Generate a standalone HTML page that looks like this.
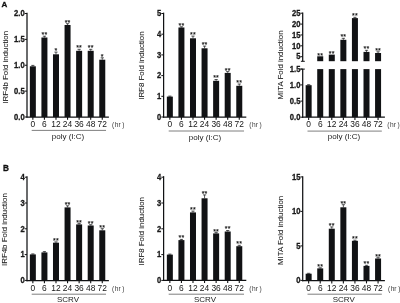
<!DOCTYPE html>
<html lang="en"><head><meta charset="utf-8"><title>Figure</title>
<style>
html,body{margin:0;padding:0;background:#fff;overflow:hidden}
svg{display:block;filter:blur(0.3px);font-family:"Liberation Sans",Arial,sans-serif}
</style></head>
<body>
<svg width="400" height="303" viewBox="0 0 400 303">
<rect x="0" y="0" width="400" height="303" fill="#ffffff"/>
<line x1="27" y1="12.65" x2="27" y2="117.6" stroke="#111214" stroke-width="1.25"/>
<line x1="26.4" y1="117" x2="108.9" y2="117" stroke="#111214" stroke-width="1.25"/>
<line x1="24.7" y1="117" x2="27" y2="117" stroke="#111214" stroke-width="1"/>
<text transform="translate(24.7,119.75) scale(0.92,1)" font-size="8.3" text-anchor="end" font-weight="bold" fill="#1a1a1a" stroke="#1a1a1a" stroke-width="0.3">0.0</text>
<line x1="24.7" y1="91.12" x2="27" y2="91.12" stroke="#111214" stroke-width="1"/>
<text transform="translate(24.7,93.88) scale(0.92,1)" font-size="8.3" text-anchor="end" font-weight="bold" fill="#1a1a1a" stroke="#1a1a1a" stroke-width="0.3">0.5</text>
<line x1="24.7" y1="65.25" x2="27" y2="65.25" stroke="#111214" stroke-width="1"/>
<text transform="translate(24.7,68) scale(0.92,1)" font-size="8.3" text-anchor="end" font-weight="bold" fill="#1a1a1a" stroke="#1a1a1a" stroke-width="0.3">1.0</text>
<line x1="24.7" y1="39.38" x2="27" y2="39.38" stroke="#111214" stroke-width="1"/>
<text transform="translate(24.7,42.12) scale(0.92,1)" font-size="8.3" text-anchor="end" font-weight="bold" fill="#1a1a1a" stroke="#1a1a1a" stroke-width="0.3">1.5</text>
<line x1="24.7" y1="13.5" x2="27" y2="13.5" stroke="#111214" stroke-width="1"/>
<text transform="translate(24.7,16.25) scale(0.92,1)" font-size="8.3" text-anchor="end" font-weight="bold" fill="#1a1a1a" stroke="#1a1a1a" stroke-width="0.3">2.0</text>
<rect x="29.85" y="66.3" width="6" height="50.7" fill="#111214"/>
<line x1="32.85" y1="65.4" x2="32.85" y2="66.3" stroke="#111214" stroke-width="0.7"/>
<line x1="31.25" y1="65.4" x2="34.45" y2="65.4" stroke="#111214" stroke-width="0.7"/>
<line x1="32.85" y1="117" x2="32.85" y2="119.7" stroke="#111214" stroke-width="1.1"/>
<text transform="translate(32.85,127) scale(0.98,1)" font-size="8.6" text-anchor="middle" fill="#161616">0</text>
<rect x="41.42" y="37.5" width="6" height="79.5" fill="#111214"/>
<line x1="44.42" y1="36.2" x2="44.42" y2="37.5" stroke="#111214" stroke-width="0.7"/>
<line x1="42.82" y1="36.2" x2="46.02" y2="36.2" stroke="#111214" stroke-width="0.7"/>
<text x="44.42" y="37.1" font-size="7" text-anchor="middle" font-weight="normal" fill="#111" stroke="#111" stroke-width="0.15" letter-spacing="0.2">**</text>
<line x1="44.42" y1="117" x2="44.42" y2="119.7" stroke="#111214" stroke-width="1.1"/>
<text transform="translate(44.42,127) scale(0.98,1)" font-size="8.6" text-anchor="middle" fill="#161616">6</text>
<rect x="52.99" y="54.3" width="6" height="62.7" fill="#111214"/>
<line x1="55.99" y1="52.1" x2="55.99" y2="54.3" stroke="#111214" stroke-width="0.7"/>
<line x1="54.39" y1="52.1" x2="57.59" y2="52.1" stroke="#111214" stroke-width="0.7"/>
<text x="55.99" y="53" font-size="7" text-anchor="middle" font-weight="normal" fill="#111" stroke="#111" stroke-width="0.15" letter-spacing="0.2">*</text>
<line x1="55.99" y1="117" x2="55.99" y2="119.7" stroke="#111214" stroke-width="1.1"/>
<text transform="translate(55.99,127) scale(0.98,1)" font-size="8.6" text-anchor="middle" fill="#161616">12</text>
<rect x="64.56" y="25" width="6" height="92" fill="#111214"/>
<line x1="67.56" y1="23.7" x2="67.56" y2="25" stroke="#111214" stroke-width="0.7"/>
<line x1="65.96" y1="23.7" x2="69.16" y2="23.7" stroke="#111214" stroke-width="0.7"/>
<text x="67.56" y="24.6" font-size="7" text-anchor="middle" font-weight="normal" fill="#111" stroke="#111" stroke-width="0.15" letter-spacing="0.2">**</text>
<line x1="67.56" y1="117" x2="67.56" y2="119.7" stroke="#111214" stroke-width="1.1"/>
<text transform="translate(67.56,127) scale(0.98,1)" font-size="8.6" text-anchor="middle" fill="#161616">24</text>
<rect x="76.13" y="50.8" width="6" height="66.2" fill="#111214"/>
<line x1="79.13" y1="49.3" x2="79.13" y2="50.8" stroke="#111214" stroke-width="0.7"/>
<line x1="77.53" y1="49.3" x2="80.73" y2="49.3" stroke="#111214" stroke-width="0.7"/>
<text x="79.13" y="50.2" font-size="7" text-anchor="middle" font-weight="normal" fill="#111" stroke="#111" stroke-width="0.15" letter-spacing="0.2">**</text>
<line x1="79.13" y1="117" x2="79.13" y2="119.7" stroke="#111214" stroke-width="1.1"/>
<text transform="translate(79.13,127) scale(0.98,1)" font-size="8.6" text-anchor="middle" fill="#161616">36</text>
<rect x="87.7" y="50.8" width="6" height="66.2" fill="#111214"/>
<line x1="90.7" y1="49.3" x2="90.7" y2="50.8" stroke="#111214" stroke-width="0.7"/>
<line x1="89.1" y1="49.3" x2="92.3" y2="49.3" stroke="#111214" stroke-width="0.7"/>
<text x="90.7" y="50.2" font-size="7" text-anchor="middle" font-weight="normal" fill="#111" stroke="#111" stroke-width="0.15" letter-spacing="0.2">**</text>
<line x1="90.7" y1="117" x2="90.7" y2="119.7" stroke="#111214" stroke-width="1.1"/>
<text transform="translate(90.7,127) scale(0.98,1)" font-size="8.6" text-anchor="middle" fill="#161616">48</text>
<rect x="99.27" y="59.7" width="6" height="57.3" fill="#111214"/>
<line x1="102.27" y1="57.8" x2="102.27" y2="59.7" stroke="#111214" stroke-width="0.7"/>
<line x1="100.67" y1="57.8" x2="103.87" y2="57.8" stroke="#111214" stroke-width="0.7"/>
<text x="102.27" y="58.7" font-size="7" text-anchor="middle" font-weight="normal" fill="#111" stroke="#111" stroke-width="0.15" letter-spacing="0.2">*</text>
<line x1="102.27" y1="117" x2="102.27" y2="119.7" stroke="#111214" stroke-width="1.1"/>
<text transform="translate(102.27,127) scale(0.98,1)" font-size="8.6" text-anchor="middle" fill="#161616">72</text>
<text x="112" y="127.1" font-size="6.6" text-anchor="start" font-weight="normal" fill="#3a3a3a">(<tspan dx="0.6">hr</tspan><tspan dx="1.6">)</tspan></text>
<line x1="31.7" y1="130.4" x2="106.02" y2="130.4" stroke="#707070" stroke-width="0.9"/>
<text x="68" y="138.7" font-size="8" text-anchor="middle" font-weight="normal" fill="#222">poly (I:C)</text>
<text transform="translate(7.8,67.3) rotate(-90)" font-size="7.9" text-anchor="middle" fill="#1c1c1c" stroke="#1c1c1c" stroke-width="0.08">IRF4b Fold induction</text>
<line x1="163.6" y1="12.65" x2="163.6" y2="117.6" stroke="#111214" stroke-width="1.25"/>
<line x1="163" y1="117" x2="246.3" y2="117" stroke="#111214" stroke-width="1.25"/>
<line x1="161.3" y1="117" x2="163.6" y2="117" stroke="#111214" stroke-width="1"/>
<text transform="translate(161.3,119.75) scale(0.92,1)" font-size="8.3" text-anchor="end" font-weight="bold" fill="#1a1a1a" stroke="#1a1a1a" stroke-width="0.3">0</text>
<line x1="161.3" y1="96.3" x2="163.6" y2="96.3" stroke="#111214" stroke-width="1"/>
<text transform="translate(161.3,99.05) scale(0.92,1)" font-size="8.3" text-anchor="end" font-weight="bold" fill="#1a1a1a" stroke="#1a1a1a" stroke-width="0.3">1</text>
<line x1="161.3" y1="75.6" x2="163.6" y2="75.6" stroke="#111214" stroke-width="1"/>
<text transform="translate(161.3,78.35) scale(0.92,1)" font-size="8.3" text-anchor="end" font-weight="bold" fill="#1a1a1a" stroke="#1a1a1a" stroke-width="0.3">2</text>
<line x1="161.3" y1="54.9" x2="163.6" y2="54.9" stroke="#111214" stroke-width="1"/>
<text transform="translate(161.3,57.65) scale(0.92,1)" font-size="8.3" text-anchor="end" font-weight="bold" fill="#1a1a1a" stroke="#1a1a1a" stroke-width="0.3">3</text>
<line x1="161.3" y1="34.2" x2="163.6" y2="34.2" stroke="#111214" stroke-width="1"/>
<text transform="translate(161.3,36.95) scale(0.92,1)" font-size="8.3" text-anchor="end" font-weight="bold" fill="#1a1a1a" stroke="#1a1a1a" stroke-width="0.3">4</text>
<line x1="161.3" y1="13.5" x2="163.6" y2="13.5" stroke="#111214" stroke-width="1"/>
<text transform="translate(161.3,16.25) scale(0.92,1)" font-size="8.3" text-anchor="end" font-weight="bold" fill="#1a1a1a" stroke="#1a1a1a" stroke-width="0.3">5</text>
<rect x="166.85" y="96.6" width="6" height="20.4" fill="#111214"/>
<line x1="169.85" y1="96.1" x2="169.85" y2="96.6" stroke="#111214" stroke-width="0.7"/>
<line x1="168.25" y1="96.1" x2="171.45" y2="96.1" stroke="#111214" stroke-width="0.7"/>
<line x1="169.85" y1="117" x2="169.85" y2="119.7" stroke="#111214" stroke-width="1.1"/>
<text transform="translate(169.85,127) scale(0.98,1)" font-size="8.6" text-anchor="middle" fill="#161616">0</text>
<rect x="178.42" y="27.5" width="6" height="89.5" fill="#111214"/>
<line x1="181.42" y1="26.8" x2="181.42" y2="27.5" stroke="#111214" stroke-width="0.7"/>
<line x1="179.82" y1="26.8" x2="183.02" y2="26.8" stroke="#111214" stroke-width="0.7"/>
<text x="181.42" y="27.7" font-size="7" text-anchor="middle" font-weight="normal" fill="#111" stroke="#111" stroke-width="0.15" letter-spacing="0.2">**</text>
<line x1="181.42" y1="117" x2="181.42" y2="119.7" stroke="#111214" stroke-width="1.1"/>
<text transform="translate(181.42,127) scale(0.98,1)" font-size="8.6" text-anchor="middle" fill="#161616">6</text>
<rect x="189.99" y="38.3" width="6" height="78.7" fill="#111214"/>
<line x1="192.99" y1="36.1" x2="192.99" y2="38.3" stroke="#111214" stroke-width="0.7"/>
<line x1="191.39" y1="36.1" x2="194.59" y2="36.1" stroke="#111214" stroke-width="0.7"/>
<text x="192.99" y="37" font-size="7" text-anchor="middle" font-weight="normal" fill="#111" stroke="#111" stroke-width="0.15" letter-spacing="0.2">**</text>
<line x1="192.99" y1="117" x2="192.99" y2="119.7" stroke="#111214" stroke-width="1.1"/>
<text transform="translate(192.99,127) scale(0.98,1)" font-size="8.6" text-anchor="middle" fill="#161616">12</text>
<rect x="201.56" y="48.3" width="6" height="68.7" fill="#111214"/>
<line x1="204.56" y1="46.1" x2="204.56" y2="48.3" stroke="#111214" stroke-width="0.7"/>
<line x1="202.96" y1="46.1" x2="206.16" y2="46.1" stroke="#111214" stroke-width="0.7"/>
<text x="204.56" y="47" font-size="7" text-anchor="middle" font-weight="normal" fill="#111" stroke="#111" stroke-width="0.15" letter-spacing="0.2">**</text>
<line x1="204.56" y1="117" x2="204.56" y2="119.7" stroke="#111214" stroke-width="1.1"/>
<text transform="translate(204.56,127) scale(0.98,1)" font-size="8.6" text-anchor="middle" fill="#161616">24</text>
<rect x="213.13" y="80.8" width="6" height="36.2" fill="#111214"/>
<line x1="216.13" y1="79.5" x2="216.13" y2="80.8" stroke="#111214" stroke-width="0.7"/>
<line x1="214.53" y1="79.5" x2="217.73" y2="79.5" stroke="#111214" stroke-width="0.7"/>
<text x="216.13" y="80.4" font-size="7" text-anchor="middle" font-weight="normal" fill="#111" stroke="#111" stroke-width="0.15" letter-spacing="0.2">**</text>
<line x1="216.13" y1="117" x2="216.13" y2="119.7" stroke="#111214" stroke-width="1.1"/>
<text transform="translate(216.13,127) scale(0.98,1)" font-size="8.6" text-anchor="middle" fill="#161616">36</text>
<rect x="224.7" y="72.9" width="6" height="44.1" fill="#111214"/>
<line x1="227.7" y1="71.6" x2="227.7" y2="72.9" stroke="#111214" stroke-width="0.7"/>
<line x1="226.1" y1="71.6" x2="229.3" y2="71.6" stroke="#111214" stroke-width="0.7"/>
<text x="227.7" y="72.5" font-size="7" text-anchor="middle" font-weight="normal" fill="#111" stroke="#111" stroke-width="0.15" letter-spacing="0.2">**</text>
<line x1="227.7" y1="117" x2="227.7" y2="119.7" stroke="#111214" stroke-width="1.1"/>
<text transform="translate(227.7,127) scale(0.98,1)" font-size="8.6" text-anchor="middle" fill="#161616">48</text>
<rect x="236.27" y="85.8" width="6" height="31.2" fill="#111214"/>
<line x1="239.27" y1="84" x2="239.27" y2="85.8" stroke="#111214" stroke-width="0.7"/>
<line x1="237.67" y1="84" x2="240.87" y2="84" stroke="#111214" stroke-width="0.7"/>
<text x="239.27" y="84.9" font-size="7" text-anchor="middle" font-weight="normal" fill="#111" stroke="#111" stroke-width="0.15" letter-spacing="0.2">**</text>
<line x1="239.27" y1="117" x2="239.27" y2="119.7" stroke="#111214" stroke-width="1.1"/>
<text transform="translate(239.27,127) scale(0.98,1)" font-size="8.6" text-anchor="middle" fill="#161616">72</text>
<text x="249.2" y="127.1" font-size="6.6" text-anchor="start" font-weight="normal" fill="#3a3a3a">(<tspan dx="0.6">hr</tspan><tspan dx="1.6">)</tspan></text>
<line x1="168.7" y1="131" x2="244.02" y2="131" stroke="#707070" stroke-width="0.9"/>
<text x="205" y="139.5" font-size="8" text-anchor="middle" font-weight="normal" fill="#222">poly (I:C)</text>
<text transform="translate(143.6,65.6) rotate(-90)" font-size="7.9" text-anchor="middle" fill="#1c1c1c" stroke="#1c1c1c" stroke-width="0.08">IRF8 Fold induction</text>
<line x1="302.7" y1="12.5" x2="302.7" y2="61.3" stroke="#111214" stroke-width="1.25"/>
<line x1="302.7" y1="69.1" x2="302.7" y2="117.8" stroke="#111214" stroke-width="1.25"/>
<line x1="300.9" y1="61.3" x2="304.8" y2="61.3" stroke="#111214" stroke-width="1"/>
<line x1="300.4" y1="69.1" x2="304.8" y2="69.1" stroke="#111214" stroke-width="1"/>
<line x1="302.1" y1="117.2" x2="384.9" y2="117.2" stroke="#111214" stroke-width="1.25"/>
<line x1="300.4" y1="117.2" x2="302.7" y2="117.2" stroke="#111214" stroke-width="1"/>
<text transform="translate(300.4,119.95) scale(0.92,1)" font-size="8.3" text-anchor="end" font-weight="bold" fill="#1a1a1a" stroke="#1a1a1a" stroke-width="0.3">0.0</text>
<line x1="300.4" y1="101.1" x2="302.7" y2="101.1" stroke="#111214" stroke-width="1"/>
<text transform="translate(300.4,103.85) scale(0.92,1)" font-size="8.3" text-anchor="end" font-weight="bold" fill="#1a1a1a" stroke="#1a1a1a" stroke-width="0.3">0.5</text>
<line x1="300.4" y1="84.9" x2="302.7" y2="84.9" stroke="#111214" stroke-width="1"/>
<text transform="translate(300.4,87.65) scale(0.92,1)" font-size="8.3" text-anchor="end" font-weight="bold" fill="#1a1a1a" stroke="#1a1a1a" stroke-width="0.3">1.0</text>
<line x1="300.4" y1="69" x2="302.7" y2="69" stroke="#111214" stroke-width="1"/>
<text transform="translate(300.4,71.75) scale(0.92,1)" font-size="8.3" text-anchor="end" font-weight="bold" fill="#1a1a1a" stroke="#1a1a1a" stroke-width="0.3">1.5</text>
<line x1="300.4" y1="56.7" x2="302.7" y2="56.7" stroke="#111214" stroke-width="1"/>
<text transform="translate(300.4,59.45) scale(0.92,1)" font-size="8.3" text-anchor="end" font-weight="bold" fill="#1a1a1a" stroke="#1a1a1a" stroke-width="0.3">5</text>
<line x1="300.4" y1="45.8" x2="302.7" y2="45.8" stroke="#111214" stroke-width="1"/>
<text transform="translate(300.4,48.55) scale(0.92,1)" font-size="8.3" text-anchor="end" font-weight="bold" fill="#1a1a1a" stroke="#1a1a1a" stroke-width="0.3">10</text>
<line x1="300.4" y1="34.95" x2="302.7" y2="34.95" stroke="#111214" stroke-width="1"/>
<text transform="translate(300.4,37.7) scale(0.92,1)" font-size="8.3" text-anchor="end" font-weight="bold" fill="#1a1a1a" stroke="#1a1a1a" stroke-width="0.3">15</text>
<line x1="300.4" y1="24.1" x2="302.7" y2="24.1" stroke="#111214" stroke-width="1"/>
<text transform="translate(300.4,26.85) scale(0.92,1)" font-size="8.3" text-anchor="end" font-weight="bold" fill="#1a1a1a" stroke="#1a1a1a" stroke-width="0.3">20</text>
<line x1="300.4" y1="13.2" x2="302.7" y2="13.2" stroke="#111214" stroke-width="1"/>
<text transform="translate(300.4,15.95) scale(0.92,1)" font-size="8.3" text-anchor="end" font-weight="bold" fill="#1a1a1a" stroke="#1a1a1a" stroke-width="0.3">25</text>
<rect x="305.65" y="85.2" width="6" height="32" fill="#111214"/>
<line x1="308.65" y1="84.7" x2="308.65" y2="85.2" stroke="#111214" stroke-width="0.7"/>
<line x1="307.05" y1="84.7" x2="310.25" y2="84.7" stroke="#111214" stroke-width="0.7"/>
<line x1="308.65" y1="117.2" x2="308.65" y2="119.9" stroke="#111214" stroke-width="1.1"/>
<text transform="translate(308.65,127) scale(0.98,1)" font-size="8.6" text-anchor="middle" fill="#161616">0</text>
<rect x="317.22" y="56.3" width="6" height="4.9" fill="#111214"/>
<rect x="317.22" y="69.1" width="6" height="48.1" fill="#111214"/>
<text x="320.22" y="57.9" font-size="7" text-anchor="middle" font-weight="normal" fill="#111" stroke="#111" stroke-width="0.15" letter-spacing="0.2">**</text>
<line x1="320.22" y1="117.2" x2="320.22" y2="119.9" stroke="#111214" stroke-width="1.1"/>
<text transform="translate(320.22,127) scale(0.98,1)" font-size="8.6" text-anchor="middle" fill="#161616">6</text>
<rect x="328.79" y="54.6" width="6" height="6.6" fill="#111214"/>
<rect x="328.79" y="69.1" width="6" height="48.1" fill="#111214"/>
<text x="331.79" y="55.5" font-size="7" text-anchor="middle" font-weight="normal" fill="#111" stroke="#111" stroke-width="0.15" letter-spacing="0.2">**</text>
<line x1="331.79" y1="117.2" x2="331.79" y2="119.9" stroke="#111214" stroke-width="1.1"/>
<text transform="translate(331.79,127) scale(0.98,1)" font-size="8.6" text-anchor="middle" fill="#161616">12</text>
<rect x="340.36" y="39.8" width="6" height="21.4" fill="#111214"/>
<rect x="340.36" y="69.1" width="6" height="48.1" fill="#111214"/>
<line x1="343.36" y1="38.3" x2="343.36" y2="39.8" stroke="#111214" stroke-width="0.7"/>
<line x1="341.76" y1="38.3" x2="344.96" y2="38.3" stroke="#111214" stroke-width="0.7"/>
<text x="343.36" y="39.2" font-size="7" text-anchor="middle" font-weight="normal" fill="#111" stroke="#111" stroke-width="0.15" letter-spacing="0.2">**</text>
<line x1="343.36" y1="117.2" x2="343.36" y2="119.9" stroke="#111214" stroke-width="1.1"/>
<text transform="translate(343.36,127) scale(0.98,1)" font-size="8.6" text-anchor="middle" fill="#161616">24</text>
<rect x="351.93" y="18.1" width="6" height="43.1" fill="#111214"/>
<rect x="351.93" y="69.1" width="6" height="48.1" fill="#111214"/>
<line x1="354.93" y1="17.3" x2="354.93" y2="18.1" stroke="#111214" stroke-width="0.7"/>
<line x1="353.33" y1="17.3" x2="356.53" y2="17.3" stroke="#111214" stroke-width="0.7"/>
<text x="354.93" y="18.2" font-size="7" text-anchor="middle" font-weight="normal" fill="#111" stroke="#111" stroke-width="0.15" letter-spacing="0.2">**</text>
<line x1="354.93" y1="117.2" x2="354.93" y2="119.9" stroke="#111214" stroke-width="1.1"/>
<text transform="translate(354.93,127) scale(0.98,1)" font-size="8.6" text-anchor="middle" fill="#161616">36</text>
<rect x="363.5" y="51.9" width="6" height="9.3" fill="#111214"/>
<rect x="363.5" y="69.1" width="6" height="48.1" fill="#111214"/>
<line x1="366.5" y1="50.3" x2="366.5" y2="51.9" stroke="#111214" stroke-width="0.7"/>
<line x1="364.9" y1="50.3" x2="368.1" y2="50.3" stroke="#111214" stroke-width="0.7"/>
<text x="366.5" y="51.2" font-size="7" text-anchor="middle" font-weight="normal" fill="#111" stroke="#111" stroke-width="0.15" letter-spacing="0.2">**</text>
<line x1="366.5" y1="117.2" x2="366.5" y2="119.9" stroke="#111214" stroke-width="1.1"/>
<text transform="translate(366.5,127) scale(0.98,1)" font-size="8.6" text-anchor="middle" fill="#161616">48</text>
<rect x="375.07" y="53" width="6" height="8.2" fill="#111214"/>
<rect x="375.07" y="69.1" width="6" height="48.1" fill="#111214"/>
<line x1="378.07" y1="51.8" x2="378.07" y2="53" stroke="#111214" stroke-width="0.7"/>
<line x1="376.47" y1="51.8" x2="379.67" y2="51.8" stroke="#111214" stroke-width="0.7"/>
<text x="378.07" y="52.7" font-size="7" text-anchor="middle" font-weight="normal" fill="#111" stroke="#111" stroke-width="0.15" letter-spacing="0.2">**</text>
<line x1="378.07" y1="117.2" x2="378.07" y2="119.9" stroke="#111214" stroke-width="1.1"/>
<text transform="translate(378.07,127) scale(0.98,1)" font-size="8.6" text-anchor="middle" fill="#161616">72</text>
<text x="387.3" y="127.1" font-size="6.6" text-anchor="start" font-weight="normal" fill="#3a3a3a">(<tspan dx="0.6">hr</tspan><tspan dx="1.6">)</tspan></text>
<line x1="307.5" y1="131.1" x2="381.82" y2="131.1" stroke="#707070" stroke-width="0.9"/>
<text x="344" y="139.3" font-size="8" text-anchor="middle" font-weight="normal" fill="#222">poly (I:C)</text>
<text transform="translate(282.6,65) rotate(-90)" font-size="7.9" text-anchor="middle" fill="#1c1c1c" stroke="#1c1c1c" stroke-width="0.08">MITA Fold induction</text>
<line x1="27" y1="176.15" x2="27" y2="281.2" stroke="#111214" stroke-width="1.25"/>
<line x1="26.4" y1="280.6" x2="108.9" y2="280.6" stroke="#111214" stroke-width="1.25"/>
<line x1="24.7" y1="280.4" x2="27" y2="280.4" stroke="#111214" stroke-width="1"/>
<text transform="translate(24.7,283.15) scale(0.92,1)" font-size="8.3" text-anchor="end" font-weight="bold" fill="#1a1a1a" stroke="#1a1a1a" stroke-width="0.3">0</text>
<line x1="24.7" y1="254.6" x2="27" y2="254.6" stroke="#111214" stroke-width="1"/>
<text transform="translate(24.7,257.35) scale(0.92,1)" font-size="8.3" text-anchor="end" font-weight="bold" fill="#1a1a1a" stroke="#1a1a1a" stroke-width="0.3">1</text>
<line x1="24.7" y1="228.8" x2="27" y2="228.8" stroke="#111214" stroke-width="1"/>
<text transform="translate(24.7,231.55) scale(0.92,1)" font-size="8.3" text-anchor="end" font-weight="bold" fill="#1a1a1a" stroke="#1a1a1a" stroke-width="0.3">2</text>
<line x1="24.7" y1="203" x2="27" y2="203" stroke="#111214" stroke-width="1"/>
<text transform="translate(24.7,205.75) scale(0.92,1)" font-size="8.3" text-anchor="end" font-weight="bold" fill="#1a1a1a" stroke="#1a1a1a" stroke-width="0.3">3</text>
<line x1="24.7" y1="177.2" x2="27" y2="177.2" stroke="#111214" stroke-width="1"/>
<text transform="translate(24.7,179.95) scale(0.92,1)" font-size="8.3" text-anchor="end" font-weight="bold" fill="#1a1a1a" stroke="#1a1a1a" stroke-width="0.3">4</text>
<rect x="29.85" y="254.4" width="6" height="26.2" fill="#111214"/>
<line x1="32.85" y1="253.9" x2="32.85" y2="254.4" stroke="#111214" stroke-width="0.7"/>
<line x1="31.25" y1="253.9" x2="34.45" y2="253.9" stroke="#111214" stroke-width="0.7"/>
<line x1="32.85" y1="280.6" x2="32.85" y2="283.3" stroke="#111214" stroke-width="1.1"/>
<text transform="translate(32.85,290.5) scale(0.98,1)" font-size="8.6" text-anchor="middle" fill="#161616">0</text>
<rect x="41.42" y="252.4" width="6" height="28.2" fill="#111214"/>
<line x1="44.42" y1="251.6" x2="44.42" y2="252.4" stroke="#111214" stroke-width="0.7"/>
<line x1="42.82" y1="251.6" x2="46.02" y2="251.6" stroke="#111214" stroke-width="0.7"/>
<line x1="44.42" y1="280.6" x2="44.42" y2="283.3" stroke="#111214" stroke-width="1.1"/>
<text transform="translate(44.42,290.5) scale(0.98,1)" font-size="8.6" text-anchor="middle" fill="#161616">6</text>
<rect x="52.99" y="242.7" width="6" height="37.9" fill="#111214"/>
<line x1="55.99" y1="241.9" x2="55.99" y2="242.7" stroke="#111214" stroke-width="0.7"/>
<line x1="54.39" y1="241.9" x2="57.59" y2="241.9" stroke="#111214" stroke-width="0.7"/>
<text x="55.99" y="242.8" font-size="7" text-anchor="middle" font-weight="normal" fill="#111" stroke="#111" stroke-width="0.15" letter-spacing="0.2">**</text>
<line x1="55.99" y1="280.6" x2="55.99" y2="283.3" stroke="#111214" stroke-width="1.1"/>
<text transform="translate(55.99,290.5) scale(0.98,1)" font-size="8.6" text-anchor="middle" fill="#161616">12</text>
<rect x="64.56" y="207.4" width="6" height="73.2" fill="#111214"/>
<line x1="67.56" y1="205.8" x2="67.56" y2="207.4" stroke="#111214" stroke-width="0.7"/>
<line x1="65.96" y1="205.8" x2="69.16" y2="205.8" stroke="#111214" stroke-width="0.7"/>
<text x="67.56" y="206.7" font-size="7" text-anchor="middle" font-weight="normal" fill="#111" stroke="#111" stroke-width="0.15" letter-spacing="0.2">**</text>
<line x1="67.56" y1="280.6" x2="67.56" y2="283.3" stroke="#111214" stroke-width="1.1"/>
<text transform="translate(67.56,290.5) scale(0.98,1)" font-size="8.6" text-anchor="middle" fill="#161616">24</text>
<rect x="76.13" y="224.4" width="6" height="56.2" fill="#111214"/>
<line x1="79.13" y1="223.6" x2="79.13" y2="224.4" stroke="#111214" stroke-width="0.7"/>
<line x1="77.53" y1="223.6" x2="80.73" y2="223.6" stroke="#111214" stroke-width="0.7"/>
<text x="79.13" y="224.5" font-size="7" text-anchor="middle" font-weight="normal" fill="#111" stroke="#111" stroke-width="0.15" letter-spacing="0.2">**</text>
<line x1="79.13" y1="280.6" x2="79.13" y2="283.3" stroke="#111214" stroke-width="1.1"/>
<text transform="translate(79.13,290.5) scale(0.98,1)" font-size="8.6" text-anchor="middle" fill="#161616">36</text>
<rect x="87.7" y="225.5" width="6" height="55.1" fill="#111214"/>
<line x1="90.7" y1="224.7" x2="90.7" y2="225.5" stroke="#111214" stroke-width="0.7"/>
<line x1="89.1" y1="224.7" x2="92.3" y2="224.7" stroke="#111214" stroke-width="0.7"/>
<text x="90.7" y="225.6" font-size="7" text-anchor="middle" font-weight="normal" fill="#111" stroke="#111" stroke-width="0.15" letter-spacing="0.2">**</text>
<line x1="90.7" y1="280.6" x2="90.7" y2="283.3" stroke="#111214" stroke-width="1.1"/>
<text transform="translate(90.7,290.5) scale(0.98,1)" font-size="8.6" text-anchor="middle" fill="#161616">48</text>
<rect x="99.27" y="230.3" width="6" height="50.3" fill="#111214"/>
<line x1="102.27" y1="228.7" x2="102.27" y2="230.3" stroke="#111214" stroke-width="0.7"/>
<line x1="100.67" y1="228.7" x2="103.87" y2="228.7" stroke="#111214" stroke-width="0.7"/>
<text x="102.27" y="229.6" font-size="7" text-anchor="middle" font-weight="normal" fill="#111" stroke="#111" stroke-width="0.15" letter-spacing="0.2">**</text>
<line x1="102.27" y1="280.6" x2="102.27" y2="283.3" stroke="#111214" stroke-width="1.1"/>
<text transform="translate(102.27,290.5) scale(0.98,1)" font-size="8.6" text-anchor="middle" fill="#161616">72</text>
<text x="112" y="290.6" font-size="6.6" text-anchor="start" font-weight="normal" fill="#3a3a3a">(<tspan dx="0.6">hr</tspan><tspan dx="1.6">)</tspan></text>
<line x1="31.7" y1="294.2" x2="106.02" y2="294.2" stroke="#707070" stroke-width="0.9"/>
<text x="68" y="302.2" font-size="8" text-anchor="middle" font-weight="normal" fill="#222">SCRV</text>
<text transform="translate(6.9,229.6) rotate(-90)" font-size="7.9" text-anchor="middle" fill="#1c1c1c" stroke="#1c1c1c" stroke-width="0.08">IRF4b Fold induction</text>
<line x1="163.6" y1="176.15" x2="163.6" y2="281" stroke="#111214" stroke-width="1.25"/>
<line x1="163" y1="280.4" x2="246.3" y2="280.4" stroke="#111214" stroke-width="1.25"/>
<line x1="161.3" y1="280.4" x2="163.6" y2="280.4" stroke="#111214" stroke-width="1"/>
<text transform="translate(161.3,283.15) scale(0.92,1)" font-size="8.3" text-anchor="end" font-weight="bold" fill="#1a1a1a" stroke="#1a1a1a" stroke-width="0.3">0</text>
<line x1="161.3" y1="254.6" x2="163.6" y2="254.6" stroke="#111214" stroke-width="1"/>
<text transform="translate(161.3,257.35) scale(0.92,1)" font-size="8.3" text-anchor="end" font-weight="bold" fill="#1a1a1a" stroke="#1a1a1a" stroke-width="0.3">1</text>
<line x1="161.3" y1="228.8" x2="163.6" y2="228.8" stroke="#111214" stroke-width="1"/>
<text transform="translate(161.3,231.55) scale(0.92,1)" font-size="8.3" text-anchor="end" font-weight="bold" fill="#1a1a1a" stroke="#1a1a1a" stroke-width="0.3">2</text>
<line x1="161.3" y1="203" x2="163.6" y2="203" stroke="#111214" stroke-width="1"/>
<text transform="translate(161.3,205.75) scale(0.92,1)" font-size="8.3" text-anchor="end" font-weight="bold" fill="#1a1a1a" stroke="#1a1a1a" stroke-width="0.3">3</text>
<line x1="161.3" y1="177.2" x2="163.6" y2="177.2" stroke="#111214" stroke-width="1"/>
<text transform="translate(161.3,179.95) scale(0.92,1)" font-size="8.3" text-anchor="end" font-weight="bold" fill="#1a1a1a" stroke="#1a1a1a" stroke-width="0.3">4</text>
<rect x="166.85" y="254.6" width="6" height="25.8" fill="#111214"/>
<line x1="169.85" y1="254.1" x2="169.85" y2="254.6" stroke="#111214" stroke-width="0.7"/>
<line x1="168.25" y1="254.1" x2="171.45" y2="254.1" stroke="#111214" stroke-width="0.7"/>
<line x1="169.85" y1="280.4" x2="169.85" y2="283.1" stroke="#111214" stroke-width="1.1"/>
<text transform="translate(169.85,290.5) scale(0.98,1)" font-size="8.6" text-anchor="middle" fill="#161616">0</text>
<rect x="178.42" y="240.1" width="6" height="40.3" fill="#111214"/>
<line x1="181.42" y1="239.4" x2="181.42" y2="240.1" stroke="#111214" stroke-width="0.7"/>
<line x1="179.82" y1="239.4" x2="183.02" y2="239.4" stroke="#111214" stroke-width="0.7"/>
<text x="181.42" y="240.3" font-size="7" text-anchor="middle" font-weight="normal" fill="#111" stroke="#111" stroke-width="0.15" letter-spacing="0.2">**</text>
<line x1="181.42" y1="280.4" x2="181.42" y2="283.1" stroke="#111214" stroke-width="1.1"/>
<text transform="translate(181.42,290.5) scale(0.98,1)" font-size="8.6" text-anchor="middle" fill="#161616">6</text>
<rect x="189.99" y="212.4" width="6" height="68" fill="#111214"/>
<line x1="192.99" y1="211.1" x2="192.99" y2="212.4" stroke="#111214" stroke-width="0.7"/>
<line x1="191.39" y1="211.1" x2="194.59" y2="211.1" stroke="#111214" stroke-width="0.7"/>
<text x="192.99" y="212" font-size="7" text-anchor="middle" font-weight="normal" fill="#111" stroke="#111" stroke-width="0.15" letter-spacing="0.2">**</text>
<line x1="192.99" y1="280.4" x2="192.99" y2="283.1" stroke="#111214" stroke-width="1.1"/>
<text transform="translate(192.99,290.5) scale(0.98,1)" font-size="8.6" text-anchor="middle" fill="#161616">12</text>
<rect x="201.56" y="198.3" width="6" height="82.1" fill="#111214"/>
<line x1="204.56" y1="194.9" x2="204.56" y2="198.3" stroke="#111214" stroke-width="0.7"/>
<line x1="202.96" y1="194.9" x2="206.16" y2="194.9" stroke="#111214" stroke-width="0.7"/>
<text x="204.56" y="195.8" font-size="7" text-anchor="middle" font-weight="normal" fill="#111" stroke="#111" stroke-width="0.15" letter-spacing="0.2">**</text>
<line x1="204.56" y1="280.4" x2="204.56" y2="283.1" stroke="#111214" stroke-width="1.1"/>
<text transform="translate(204.56,290.5) scale(0.98,1)" font-size="8.6" text-anchor="middle" fill="#161616">24</text>
<rect x="213.13" y="233.4" width="6" height="47" fill="#111214"/>
<line x1="216.13" y1="232.6" x2="216.13" y2="233.4" stroke="#111214" stroke-width="0.7"/>
<line x1="214.53" y1="232.6" x2="217.73" y2="232.6" stroke="#111214" stroke-width="0.7"/>
<text x="216.13" y="233.5" font-size="7" text-anchor="middle" font-weight="normal" fill="#111" stroke="#111" stroke-width="0.15" letter-spacing="0.2">**</text>
<line x1="216.13" y1="280.4" x2="216.13" y2="283.1" stroke="#111214" stroke-width="1.1"/>
<text transform="translate(216.13,290.5) scale(0.98,1)" font-size="8.6" text-anchor="middle" fill="#161616">36</text>
<rect x="224.7" y="231.5" width="6" height="48.9" fill="#111214"/>
<line x1="227.7" y1="230.5" x2="227.7" y2="231.5" stroke="#111214" stroke-width="0.7"/>
<line x1="226.1" y1="230.5" x2="229.3" y2="230.5" stroke="#111214" stroke-width="0.7"/>
<text x="227.7" y="231.4" font-size="7" text-anchor="middle" font-weight="normal" fill="#111" stroke="#111" stroke-width="0.15" letter-spacing="0.2">**</text>
<line x1="227.7" y1="280.4" x2="227.7" y2="283.1" stroke="#111214" stroke-width="1.1"/>
<text transform="translate(227.7,290.5) scale(0.98,1)" font-size="8.6" text-anchor="middle" fill="#161616">48</text>
<rect x="236.27" y="246.2" width="6" height="34.2" fill="#111214"/>
<line x1="239.27" y1="245.3" x2="239.27" y2="246.2" stroke="#111214" stroke-width="0.7"/>
<line x1="237.67" y1="245.3" x2="240.87" y2="245.3" stroke="#111214" stroke-width="0.7"/>
<text x="239.27" y="246.2" font-size="7" text-anchor="middle" font-weight="normal" fill="#111" stroke="#111" stroke-width="0.15" letter-spacing="0.2">**</text>
<line x1="239.27" y1="280.4" x2="239.27" y2="283.1" stroke="#111214" stroke-width="1.1"/>
<text transform="translate(239.27,290.5) scale(0.98,1)" font-size="8.6" text-anchor="middle" fill="#161616">72</text>
<text x="249.2" y="290.6" font-size="6.6" text-anchor="start" font-weight="normal" fill="#3a3a3a">(<tspan dx="0.6">hr</tspan><tspan dx="1.6">)</tspan></text>
<line x1="168.7" y1="294.2" x2="244.02" y2="294.2" stroke="#707070" stroke-width="0.9"/>
<text x="205" y="302.2" font-size="8" text-anchor="middle" font-weight="normal" fill="#222">SCRV</text>
<text transform="translate(143.6,231.3) rotate(-90)" font-size="7.9" text-anchor="middle" fill="#1c1c1c" stroke="#1c1c1c" stroke-width="0.08">IRF8 Fold induction</text>
<line x1="302.7" y1="176.15" x2="302.7" y2="281.3" stroke="#111214" stroke-width="1.25"/>
<line x1="302.1" y1="280.7" x2="384.9" y2="280.7" stroke="#111214" stroke-width="1.25"/>
<line x1="300.4" y1="280.4" x2="302.7" y2="280.4" stroke="#111214" stroke-width="1"/>
<text transform="translate(300.4,283.15) scale(0.92,1)" font-size="8.3" text-anchor="end" font-weight="bold" fill="#1a1a1a" stroke="#1a1a1a" stroke-width="0.3">0</text>
<line x1="300.4" y1="245.9" x2="302.7" y2="245.9" stroke="#111214" stroke-width="1"/>
<text transform="translate(300.4,248.65) scale(0.92,1)" font-size="8.3" text-anchor="end" font-weight="bold" fill="#1a1a1a" stroke="#1a1a1a" stroke-width="0.3">5</text>
<line x1="300.4" y1="211.4" x2="302.7" y2="211.4" stroke="#111214" stroke-width="1"/>
<text transform="translate(300.4,214.15) scale(0.92,1)" font-size="8.3" text-anchor="end" font-weight="bold" fill="#1a1a1a" stroke="#1a1a1a" stroke-width="0.3">10</text>
<line x1="300.4" y1="176.9" x2="302.7" y2="176.9" stroke="#111214" stroke-width="1"/>
<text transform="translate(300.4,179.65) scale(0.92,1)" font-size="8.3" text-anchor="end" font-weight="bold" fill="#1a1a1a" stroke="#1a1a1a" stroke-width="0.3">15</text>
<rect x="305.65" y="273.7" width="6" height="7" fill="#111214"/>
<line x1="308.65" y1="273.3" x2="308.65" y2="273.7" stroke="#111214" stroke-width="0.7"/>
<line x1="307.05" y1="273.3" x2="310.25" y2="273.3" stroke="#111214" stroke-width="0.7"/>
<line x1="308.65" y1="280.7" x2="308.65" y2="283.4" stroke="#111214" stroke-width="1.1"/>
<text transform="translate(308.65,290.5) scale(0.98,1)" font-size="8.6" text-anchor="middle" fill="#161616">0</text>
<rect x="317.22" y="268.4" width="6" height="12.3" fill="#111214"/>
<line x1="320.22" y1="267.8" x2="320.22" y2="268.4" stroke="#111214" stroke-width="0.7"/>
<line x1="318.62" y1="267.8" x2="321.82" y2="267.8" stroke="#111214" stroke-width="0.7"/>
<text x="320.22" y="268.7" font-size="7" text-anchor="middle" font-weight="normal" fill="#111" stroke="#111" stroke-width="0.15" letter-spacing="0.2">**</text>
<line x1="320.22" y1="280.7" x2="320.22" y2="283.4" stroke="#111214" stroke-width="1.1"/>
<text transform="translate(320.22,290.5) scale(0.98,1)" font-size="8.6" text-anchor="middle" fill="#161616">6</text>
<rect x="328.79" y="228.7" width="6" height="52" fill="#111214"/>
<line x1="331.79" y1="226.9" x2="331.79" y2="228.7" stroke="#111214" stroke-width="0.7"/>
<line x1="330.19" y1="226.9" x2="333.39" y2="226.9" stroke="#111214" stroke-width="0.7"/>
<text x="331.79" y="227.8" font-size="7" text-anchor="middle" font-weight="normal" fill="#111" stroke="#111" stroke-width="0.15" letter-spacing="0.2">**</text>
<line x1="331.79" y1="280.7" x2="331.79" y2="283.4" stroke="#111214" stroke-width="1.1"/>
<text transform="translate(331.79,290.5) scale(0.98,1)" font-size="8.6" text-anchor="middle" fill="#161616">12</text>
<rect x="340.36" y="207.3" width="6" height="73.4" fill="#111214"/>
<line x1="343.36" y1="204.7" x2="343.36" y2="207.3" stroke="#111214" stroke-width="0.7"/>
<line x1="341.76" y1="204.7" x2="344.96" y2="204.7" stroke="#111214" stroke-width="0.7"/>
<text x="343.36" y="205.6" font-size="7" text-anchor="middle" font-weight="normal" fill="#111" stroke="#111" stroke-width="0.15" letter-spacing="0.2">**</text>
<line x1="343.36" y1="280.7" x2="343.36" y2="283.4" stroke="#111214" stroke-width="1.1"/>
<text transform="translate(343.36,290.5) scale(0.98,1)" font-size="8.6" text-anchor="middle" fill="#161616">24</text>
<rect x="351.93" y="240.8" width="6" height="39.9" fill="#111214"/>
<line x1="354.93" y1="240.2" x2="354.93" y2="240.8" stroke="#111214" stroke-width="0.7"/>
<line x1="353.33" y1="240.2" x2="356.53" y2="240.2" stroke="#111214" stroke-width="0.7"/>
<text x="354.93" y="241.1" font-size="7" text-anchor="middle" font-weight="normal" fill="#111" stroke="#111" stroke-width="0.15" letter-spacing="0.2">**</text>
<line x1="354.93" y1="280.7" x2="354.93" y2="283.4" stroke="#111214" stroke-width="1.1"/>
<text transform="translate(354.93,290.5) scale(0.98,1)" font-size="8.6" text-anchor="middle" fill="#161616">36</text>
<rect x="363.5" y="265.9" width="6" height="14.8" fill="#111214"/>
<line x1="366.5" y1="265.3" x2="366.5" y2="265.9" stroke="#111214" stroke-width="0.7"/>
<line x1="364.9" y1="265.3" x2="368.1" y2="265.3" stroke="#111214" stroke-width="0.7"/>
<text x="366.5" y="266.2" font-size="7" text-anchor="middle" font-weight="normal" fill="#111" stroke="#111" stroke-width="0.15" letter-spacing="0.2">**</text>
<line x1="366.5" y1="280.7" x2="366.5" y2="283.4" stroke="#111214" stroke-width="1.1"/>
<text transform="translate(366.5,290.5) scale(0.98,1)" font-size="8.6" text-anchor="middle" fill="#161616">48</text>
<rect x="375.07" y="258.5" width="6" height="22.2" fill="#111214"/>
<line x1="378.07" y1="257.7" x2="378.07" y2="258.5" stroke="#111214" stroke-width="0.7"/>
<line x1="376.47" y1="257.7" x2="379.67" y2="257.7" stroke="#111214" stroke-width="0.7"/>
<text x="378.07" y="258.6" font-size="7" text-anchor="middle" font-weight="normal" fill="#111" stroke="#111" stroke-width="0.15" letter-spacing="0.2">**</text>
<line x1="378.07" y1="280.7" x2="378.07" y2="283.4" stroke="#111214" stroke-width="1.1"/>
<text transform="translate(378.07,290.5) scale(0.98,1)" font-size="8.6" text-anchor="middle" fill="#161616">72</text>
<text x="387.9" y="290.6" font-size="6.6" text-anchor="start" font-weight="normal" fill="#3a3a3a">(<tspan dx="0.6">hr</tspan><tspan dx="1.6">)</tspan></text>
<line x1="307.5" y1="294.2" x2="381.82" y2="294.2" stroke="#707070" stroke-width="0.9"/>
<text x="343.8" y="302.2" font-size="8" text-anchor="middle" font-weight="normal" fill="#222">SCRV</text>
<text transform="translate(282.6,230.4) rotate(-90)" font-size="7.9" text-anchor="middle" fill="#1c1c1c" stroke="#1c1c1c" stroke-width="0.08">MITA Fold induction</text>
<text x="1.6" y="7.1" font-size="8" text-anchor="start" font-weight="bold" fill="#111" stroke="#111" stroke-width="0.3">A</text>
<text x="2.9" y="170.9" font-size="8.2" text-anchor="start" font-weight="bold" fill="#111" stroke="#111" stroke-width="0.3">B</text>
</svg>
</body></html>
